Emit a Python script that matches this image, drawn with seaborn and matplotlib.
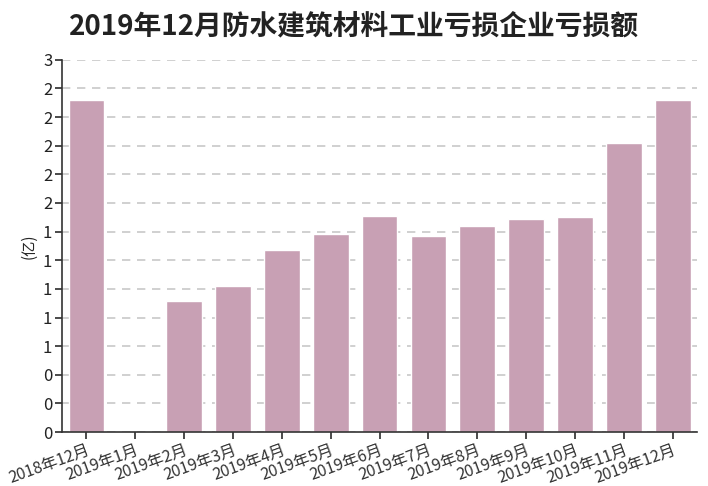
import matplotlib
matplotlib.use("Agg")
import matplotlib.pyplot as plt
import seaborn as sns
import pandas as pd
import numpy as np

categories = ["2018年12月", "2019年1月", "2019年2月", "2019年3月", "2019年4月", "2019年5月",
              "2019年6月", "2019年7月", "2019年8月", "2019年9月", "2019年10月", "2019年11月", "2019年12月"]
values = [2.32, 0.0, 0.915, 1.02, 1.27, 1.38, 1.51, 1.37, 1.44, 1.49, 1.50, 2.02, 2.32]
ytick_values = [0, 0.2, 0.4, 0.6, 0.8, 1.0, 1.2, 1.4, 1.6, 1.8, 2.0, 2.2, 2.4, 2.6]
ytick_labels = ["0", "0", "0", "1", "1", "1", "1", "1", "2", "2", "2", "2", "2", "3"]

sns.set_theme(style="white")
plt.rcParams['font.family'] = ['Noto Sans CJK SC', 'DejaVu Sans']

df = pd.DataFrame({"month": categories, "value": values})

fig = plt.figure(figsize=(7.08, 4.86), dpi=100)
ax = fig.add_axes([0.0876, 0.111, 0.897, 0.766])
sns.barplot(data=df, x="month", y="value", color="#c8a0b4", saturation=1, width=0.73, ax=ax)

ax.set_ylim(0, 2.6)
ax.set_xlim(-0.5, len(categories) - 0.5)
ax.set_yticks(ytick_values)
ax.set_yticklabels(ytick_labels, fontsize=12, color="#222222")
ax.yaxis.grid(True, linestyle=(0, (5, 4)), color="#c8c8c8", linewidth=1.2)
ax.set_axisbelow(True)
for s in ["top", "right"]:
    ax.spines[s].set_visible(False)
for s in ["left", "bottom"]:
    ax.spines[s].set_color("#333333")
    ax.spines[s].set_linewidth(1.2)
ax.tick_params(axis="both", which="both", length=5, color="#333333", direction="out", left=True, bottom=True, pad=2)
ax.set_xticks(range(len(categories)))
ax.set_xticklabels(categories, rotation=20, ha="right", rotation_mode="anchor", fontsize=11.5, color="#333333")
ax.set_xlabel("")
ax.set_ylabel("(亿)", fontsize=11, labelpad=4)

fig.text(0.5, 0.945, "2019年12月防水建筑材料工业亏损企业亏损额", ha="center", va="center",
         fontsize=20, fontweight="bold", color="#222222")

fig.savefig("out.png", dpi=100)
